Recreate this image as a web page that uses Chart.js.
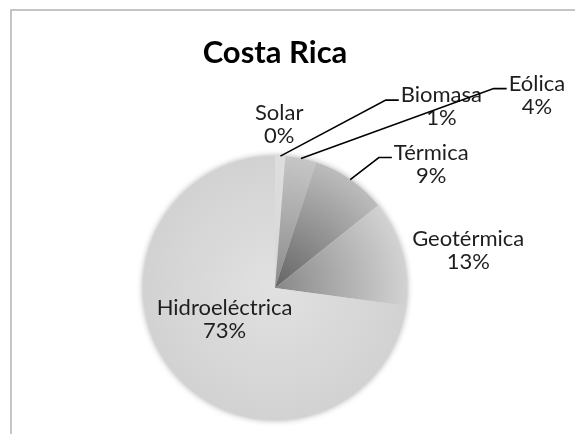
<!DOCTYPE html>
<html>
<head>
<meta charset="utf-8">
<script src="https://cdn.jsdelivr.net/npm/chart.js@4/dist/chart.umd.min.js"></script>
<style>
  html, body { margin: 0; padding: 0; background: #fff; }
  #wrap { width: 575px; height: 434px; position: relative; }
</style>
</head>
<body>
<div id="wrap"><canvas id="myChart"></canvas></div>
<script>
// Datos del gráfico
const categorias = ["Solar", "Biomasa", "Eólica", "Térmica", "Geotérmica", "Hidroeléctrica"];
const valores = [0.05, 1.2, 3.8, 9.2, 12.9, 72.85];
const titulo = "Costa Rica";

// Degradados de gris (interior -> exterior) por porción
const coloresInterior = ["#dcdcdc", "#d6d6d6", "#8a8a8a", "#646464", "#888888", "#e1e1e1"];
const coloresExterior = ["#e4e4e4", "#dedede", "#c6c6c6", "#bcbcbc", "#d2d2d2", "#d2d2d2"];

// Posición de cada etiqueta respecto al borde de su porción
const desplazEtiquetas = [[4, -43], [161, -61], [236, -75], [81, -27], [66, -14], [49, -67]];
const conLinea = [false, true, true, true, false, false];

const fuente = "Lato, 'Open Sans', sans-serif";

function degradado(context) {
    const chart = context.chart;
    const area = chart.chartArea;
    const i = context.dataIndex;
    if (!area) return coloresExterior[i];
    const cx = (area.left + area.right) / 2;
    const cy = (area.top + area.bottom) / 2;
    const r = Math.min(area.right - area.left, area.bottom - area.top) / 2;
    const g = chart.ctx.createRadialGradient(cx, cy, 0, cx, cy, r);
    g.addColorStop(0, coloresInterior[i]);
    g.addColorStop(1, coloresExterior[i]);
    return g;
}

// Marco, sombra, título y etiquetas
const adornos = {
    id: "adornos",
    beforeDraw(chart) {
        const ctx = chart.ctx;
        ctx.save();
        ctx.strokeStyle = "#b3b3b3";
        ctx.lineWidth = 1.5;
        ctx.beginPath();
        ctx.moveTo(11, 434);
        ctx.lineTo(11, 10);
        ctx.lineTo(575, 10);
        ctx.stroke();

        ctx.fillStyle = "#000";
        ctx.font = "bold 31px " + fuente;
        ctx.textAlign = "center";
        ctx.textBaseline = "middle";
        ctx.fillText(titulo, 275, 53);
        ctx.restore();
    },
    beforeDatasetsDraw(chart) {
        const arc = chart.getDatasetMeta(0).data[0];
        const ctx = chart.ctx;
        ctx.save();
        ctx.shadowColor = "rgba(0,0,0,0.35)";
        ctx.shadowBlur = 6;
        ctx.fillStyle = "#d8d8d8";
        ctx.beginPath();
        ctx.arc(arc.x, arc.y, arc.outerRadius, 0, Math.PI * 2);
        ctx.fill();
        ctx.restore();
    },
    afterDatasetsDraw(chart) {
        const ctx = chart.ctx;
        const meta = chart.getDatasetMeta(0);
        const total = valores.reduce((a, b) => a + b, 0);
        ctx.save();
        ctx.font = "22px " + fuente;
        ctx.textAlign = "center";
        ctx.textBaseline = "middle";
        meta.data.forEach((arc, i) => {
            const mid = (arc.startAngle + arc.endAngle) / 2;
            const ex = arc.x + Math.cos(mid) * arc.outerRadius;
            const ey = arc.y + Math.sin(mid) * arc.outerRadius;
            const lx = ex + desplazEtiquetas[i][0];
            const ly = ey + desplazEtiquetas[i][1];
            const pct = Math.round(valores[i] / total * 100) + "%";
            if (conLinea[i]) {
                const left = lx - ctx.measureText(categorias[i]).width / 2;
                ctx.strokeStyle = "#000";
                ctx.lineWidth = 1.6;
                ctx.beginPath();
                ctx.moveTo(ex, ey);
                ctx.lineTo(left - 15, ly + 5);
                ctx.lineTo(left - 2, ly + 5);
                ctx.stroke();
            }
            ctx.fillStyle = "#1e1e1e";
            ctx.fillText(categorias[i], lx, ly);
            ctx.fillText(pct, lx, ly + 23);
        });
        ctx.restore();
    }
};

const config = {
    type: "pie",
    data: {
        labels: categorias,
        datasets: [{
            data: valores,
            backgroundColor: degradado,
            borderWidth: 0,
        }],
    },
    options: {
        responsive: true,
        maintainAspectRatio: false,
        animation: false,
        layout: { padding: { left: 143, right: 168, top: 156, bottom: 14 } },
        plugins: {
            legend: { display: false },
            title: { display: false },
            tooltip: { enabled: false },
        },
    },
    plugins: [adornos],
};

const ctx = document.getElementById("myChart").getContext("2d");
const myChart = new Chart(ctx, config);
</script>
</body>
</html>
